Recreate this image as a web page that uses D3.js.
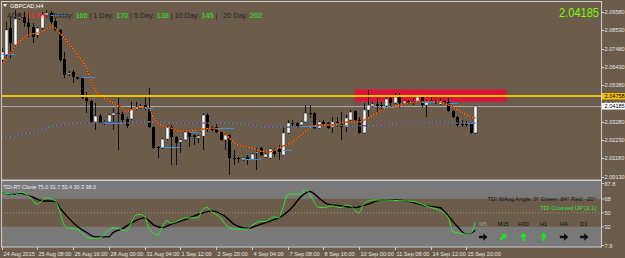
<!DOCTYPE html>
<html>
<head>
<meta charset="utf-8">
<script src="https://cdnjs.cloudflare.com/ajax/libs/d3/7.8.5/d3.min.js"></script>
<style>
  html, body { margin: 0; padding: 0; background: #6b5c4b; }
  svg { display: block; font-family: 'Liberation Sans', Arial, sans-serif; }
</style>
</head>
<body>
<div id="chart"></div>
<script>
// GBPCAD H4, 24 Aug - 15 Sep 2015
const opens = [2.0683,2.0711,2.0866,2.0769,2.0924,2.0929,2.0895,2.0872,2.0826,2.0866,2.0941,2.0952,2.0906,2.0855,2.0688,2.0602,2.0614,2.0585,2.0579,2.0465,2.0447,2.0327,2.0361,2.0321,2.0327,2.0367,2.0378,2.0373,2.0344,2.0344,2.0401,2.0407,2.0424,2.0407,2.0298,2.0183,2.0178,2.0229,2.0298,2.0241,2.0212,2.0224,2.0269,2.0252,2.0235,2.0246,2.0367,2.0298,2.0298,2.0269,2.0224,2.0252,2.0120,2.0120,2.0109,2.0126,2.0114,2.0149,2.0178,2.0126,2.0120,2.0166,2.0172,2.0137,2.0264,2.0321,2.0321,2.0310,2.0327,2.0378,2.0378,2.0292,2.0327,2.0321,2.0298,2.0327,2.0321,2.0298,2.0338,2.0390,2.0338,2.0264,2.0396,2.0419,2.0430,2.0424,2.0419,2.0465,2.0436,2.0470,2.0436,2.0447,2.0442,2.0447,2.0470,2.0424,2.0444,2.0447,2.0430,2.0447,2.0442,2.0390,2.0355,2.0315,2.0321,2.0315,2.0264]
const highs = [2.0751,2.0901,2.0929,2.0969,2.0952,2.0958,2.0952,2.0895,2.0872,2.0958,2.0969,2.0964,2.0924,2.0860,2.0728,2.0619,2.0625,2.0585,2.0585,2.0499,2.0453,2.0436,2.0373,2.0338,2.0373,2.0407,2.0465,2.0384,2.0355,2.0442,2.0442,2.0430,2.0470,2.0522,2.0304,2.0189,2.0235,2.0304,2.0310,2.0246,2.0229,2.0275,2.0275,2.0258,2.0252,2.0378,2.0378,2.0304,2.0321,2.0275,2.0258,2.0258,2.0166,2.0126,2.0126,2.0137,2.0149,2.0178,2.0183,2.0149,2.0178,2.0178,2.0195,2.0298,2.0338,2.0338,2.0327,2.0333,2.0424,2.0424,2.0384,2.0333,2.0338,2.0327,2.0355,2.0355,2.0384,2.0367,2.0396,2.0396,2.0355,2.0436,2.0510,2.0442,2.0465,2.0442,2.0465,2.0482,2.0493,2.0493,2.0453,2.0453,2.0465,2.0482,2.0482,2.0453,2.0476,2.0453,2.0465,2.0453,2.0465,2.0396,2.0361,2.0338,2.0333,2.0321,2.0419]
const lows = [2.0671,2.0694,2.0694,2.0757,2.0912,2.0872,2.0815,2.0780,2.0809,2.0855,2.0924,2.0889,2.0849,2.0671,2.0579,2.0591,2.0551,2.0568,2.0459,2.0378,2.0321,2.0281,2.0315,2.0310,2.0321,2.0281,2.0166,2.0327,2.0292,2.0338,2.0396,2.0401,2.0396,2.0292,2.0172,2.0120,2.0172,2.0224,2.0080,2.0080,2.0149,2.0218,2.0183,2.0195,2.0206,2.0166,2.0269,2.0275,2.0264,2.0218,2.0166,2.0023,2.0080,2.0092,2.0103,2.0080,2.0109,2.0051,2.0132,2.0120,2.0114,2.0126,2.0109,2.0132,2.0258,2.0298,2.0292,2.0304,2.0321,2.0350,2.0287,2.0287,2.0304,2.0287,2.0264,2.0298,2.0224,2.0269,2.0333,2.0333,2.0258,2.0258,2.0350,2.0413,2.0384,2.0396,2.0413,2.0413,2.0430,2.0413,2.0430,2.0430,2.0424,2.0442,2.0413,2.0355,2.0436,2.0430,2.0424,2.0430,2.0384,2.0350,2.0298,2.0298,2.0298,2.0258,2.0258]
const closes = [2.0728,2.0855,2.0780,2.0918,2.0929,2.0895,2.0872,2.0815,2.0866,2.0941,2.0952,2.0901,2.0855,2.0683,2.0597,2.0608,2.0585,2.0574,2.0465,2.0447,2.0327,2.0361,2.0321,2.0327,2.0367,2.0378,2.0373,2.0338,2.0304,2.0401,2.0413,2.0419,2.0401,2.0298,2.0178,2.0178,2.0229,2.0298,2.0241,2.0206,2.0224,2.0269,2.0241,2.0241,2.0246,2.0367,2.0292,2.0281,2.0269,2.0224,2.0252,2.0120,2.0114,2.0117,2.0120,2.0109,2.0143,2.0155,2.0137,2.0143,2.0172,2.0143,2.0155,2.0264,2.0321,2.0315,2.0298,2.0327,2.0378,2.0373,2.0292,2.0327,2.0310,2.0292,2.0327,2.0321,2.0298,2.0350,2.0384,2.0338,2.0264,2.0396,2.0424,2.0430,2.0419,2.0421,2.0459,2.0436,2.0470,2.0436,2.0447,2.0436,2.0439,2.0470,2.0424,2.0447,2.0439,2.0436,2.0447,2.0436,2.0390,2.0355,2.0310,2.0313,2.0310,2.0264,2.04185]

const timeLabels = ['24 Aug 2015','25 Aug 08:00','26 Aug 16:00','28 Aug 00:00','31 Aug 04:00','1 Sep 12:00','2 Sep 20:00','4 Sep 04:00','7 Sep 08:00','8 Sep 16:00','10 Sep 00:00','11 Sep 08:00','14 Sep 12:00','15 Sep 20:00']
const priceTicks = [2.09580,2.08530,2.07480,2.06430,2.05380,2.04330,2.03280,2.02230,2.01180,2.00130]

// moving averages (bar index, price)
const maFastBars = [0,2,4,6,9,11,12,13,15,17,19,20,21,23,25,27,28,30,31,33,34,35,37,38,40,44,47,49,51,53,56,58,60,62,65,67,69,71,74,76,78,80,82,84,86,89,91,93,96,98,100,103,105,106]
const maFast = [2.0654,2.0723,2.0786,2.0826,2.0843,2.0872,2.0866,2.0837,2.0780,2.0711,2.0637,2.0568,2.0510,2.0465,2.0436,2.0407,2.0390,2.0407,2.0413,2.0407,2.0350,2.0321,2.0298,2.0292,2.0275,2.0281,2.0292,2.0281,2.0235,2.0195,2.0178,2.0160,2.0155,2.0178,2.0212,2.0252,2.0292,2.0310,2.0310,2.0321,2.0327,2.0327,2.0350,2.0378,2.0407,2.0424,2.0436,2.0442,2.0442,2.0442,2.0424,2.0384,2.0355,2.0350]
const maSlowBars = [0,6,11,15,18,22,27,31,35,40,49,56,60,65,69,74,78,85,89,94,98,103,106]
const maSlow = [2.0235,2.0264,2.0298,2.0315,2.0321,2.0321,2.0321,2.0327,2.0327,2.0321,2.0321,2.0310,2.0298,2.0298,2.0304,2.0310,2.0304,2.0310,2.0321,2.0321,2.0327,2.0321,2.0321]

// short blue level segments [from bar, to bar, price]
const blueLevels = [[0,3,2.0717],[11,15,2.0941],[18,21,2.0585],[23,27,2.0321],[32,34,2.0407],[36,40,2.0183],[42,44,2.0269],[48,52,2.0292],[54,58,2.0114],[63,65,2.0166],[67,71,2.0304],[85,88,2.0413],[94,97,2.0442],[100,102,2.0436],[104,106,2.0321]]
const zoneBars = [79, 113]
const zonePrices = [2.0514, 2.0443]
const levelPrice = 2.04758
const bidPrice = 2.04185

// TDI sub window
const tdiGreenBars = [0,2,3,4,6,8,10,12,13,14,15,17,18,20,22,23,25,26,28,29,30,31,32,33,35,36,37,38,40,41,44,45,46,47,49,50,52,54,55,56,58,59,61,62,63,64,65,67,68,70,71,72,74,76,77,78,80,81,83,86,89,92,94,96,98,100,101,103,104,105,106]
const tdiGreen = [75.4,74.5,72.2,76.7,72.2,61.2,69.2,65.6,52.2,34.5,30.1,28.8,23.5,16.8,17.6,22.2,30.9,30.1,26.5,36.8,46.9,47.9,45.6,30.1,21.2,32.3,39.9,36.8,41.2,43.5,43.5,54.5,56.8,51.4,43.5,35.5,29.2,29.2,29.2,33.6,38.9,38.9,44.8,43.5,56.8,73.6,74.5,73.6,79.8,63.4,56.8,56.8,58.9,56.8,60.2,58.9,50.1,61.2,66.5,66.5,65.6,64.8,61.2,56.8,53.2,43.5,25.6,23.5,22.2,23.5,38.0]
const tdiSignalBars = [0,3,4,7,9,12,13,15,17,19,21,24,25,27,29,32,34,36,38,41,44,47,50,52,55,58,61,62,65,67,69,71,73,76,79,82,85,88,92,95,98,100,102,104,105,106]
const tdiSignal = [75.4,73.6,75.4,70.1,65.6,64.8,56.8,43.5,32.3,24.8,19.0,19.0,24.8,29.2,36.8,43.5,34.5,30.9,35.5,41.2,47.9,52.2,45.6,35.5,30.1,35.5,41.2,43.5,56.8,70.9,77.5,69.2,61.2,58.9,56.8,61.2,66.5,66.5,63.4,58.9,56.8,45.6,32.3,22.2,23.5,27.5]
const tdiTicks = [87.8, 68, 50, 32, 7.9]
const tdiBands = [68, 32]

const adrParts = [['ADR: ', 'lbl'], ['91.8%', 'red'], [' | ', 'lbl'], ['Today: ', 'lbl'], ['166', 'num'], [' | 1 Day: ', 'lbl'], ['170', 'num'], [' | 5 Day: ', 'lbl'], ['138', 'num'], [' | 10 Day: ', 'lbl'], ['145', 'num'], [' |   20 Day: ', 'lbl'], ['202', 'num']]
const timeframes = ['M5', 'M15', 'H30', 'H1', 'H4', 'D1']
const tfAngles = [0, 45, 90, 90, 0, 0]

const width = 625
const height = 258
const bg = '#6b5c4b'
const plot = { left: 1, right: 601, top: 2, bottom: 180 }
const sub = { top: 181, bottom: 247 }

const svg = d3
  .select('#chart')
  .append('svg')
  .attr('width', width)
  .attr('height', height)

svg.append('rect').attr('width', width).attr('height', height).attr('fill', bg)

const x = d3.scaleLinear().domain([0, 106]).range([1.5, 475.3])
const y = d3.scaleLinear().domain([2.0013, 2.0958]).range([176.7, 12])
const ySub = d3.scaleLinear().domain([7.9, 87.8]).range([245.5, 183.5])
const px = i => Math.round(x(i))

const defs = svg.append('defs')
defs.append('clipPath').attr('id', 'clipMain')
  .append('rect').attr('x', plot.left).attr('y', plot.top)
  .attr('width', plot.right - plot.left).attr('height', plot.bottom - plot.top)
defs.append('clipPath').attr('id', 'clipSub')
  .append('rect').attr('x', plot.left).attr('y', sub.top)
  .attr('width', plot.right - plot.left).attr('height', sub.bottom - sub.top)

const main = svg.append('g').attr('clip-path', 'url(#clipMain)')

// red supply zone
main.append('rect')
  .attr('x', x(zoneBars[0]))
  .attr('width', x(zoneBars[1]) - x(zoneBars[0]))
  .attr('y', y(zonePrices[0]))
  .attr('height', y(zonePrices[1]) - y(zonePrices[0]))
  .attr('fill', '#dc143c')

// bid line
main.append('line')
  .attr('x1', plot.left).attr('x2', plot.right)
  .attr('y1', Math.round(y(bidPrice)) + 0.5).attr('y2', Math.round(y(bidPrice)) + 0.5)
  .attr('stroke', '#a9a9a9')

// candles
const bars = d3.range(opens.length).map(i => ({ i, o: opens[i], h: highs[i], l: lows[i], c: closes[i] }))

main.selectAll('.wick')
  .data(bars)
  .enter()
  .append('line')
  .attr('class', 'wick')
  .attr('x1', d => px(d.i) + 0.5)
  .attr('x2', d => px(d.i) + 0.5)
  .attr('y1', d => y(d.h))
  .attr('y2', d => y(d.l))
  .attr('stroke', '#111')

main.selectAll('.body')
  .data(bars)
  .enter()
  .append('rect')
  .attr('class', 'body')
  .attr('x', d => px(d.i) - 1)
  .attr('width', 3)
  .attr('y', d => y(Math.max(d.o, d.c)))
  .attr('height', d => Math.max(1, Math.abs(y(d.o) - y(d.c))))
  .attr('fill', d => (d.c >= d.o ? '#fff' : '#000'))
  .attr('stroke', d => (d.c >= d.o ? '#333' : 'none'))
  .attr('stroke-width', 0.5)

// moving averages, drawn as two-coloured dotted lines
const priceLine = d3.line().x(d => x(d[0])).y(d => y(d[1])).curve(d3.curveMonotoneX)
const slowPts = maSlowBars.map((b, k) => [b, maSlow[k]])
const fastPts = maFastBars.map((b, k) => [b, maFast[k]])

main.append('path').attr('d', priceLine(slowPts)).attr('fill', 'none')
  .attr('stroke', '#8a1fb8').attr('stroke-width', 1.2)
main.append('path').attr('d', priceLine(slowPts)).attr('fill', 'none')
  .attr('stroke', '#2fb52f').attr('stroke-width', 1.2).attr('stroke-dasharray', '2 2')

main.append('path').attr('d', priceLine(fastPts)).attr('fill', 'none')
  .attr('stroke', '#9c2a08').attr('stroke-width', 1.2)
main.append('path').attr('d', priceLine(fastPts)).attr('fill', 'none')
  .attr('stroke', '#f08a1c').attr('stroke-width', 1.2).attr('stroke-dasharray', '1.5 1.5')

main.selectAll('.blue')
  .data(blueLevels)
  .enter()
  .append('line')
  .attr('x1', d => x(d[0]))
  .attr('x2', d => x(d[1]))
  .attr('y1', d => Math.round(y(d[2])) + 0.5)
  .attr('y2', d => Math.round(y(d[2])) + 0.5)
  .attr('stroke', '#3d8fe0')

// horizontal level
main.append('line')
  .attr('x1', plot.left).attr('x2', plot.right)
  .attr('y1', y(levelPrice)).attr('y2', y(levelPrice))
  .attr('stroke', '#f2c200').attr('stroke-width', 2)

// header texts
svg.append('path').attr('d', 'M3,4 L7,4 L5,7 Z').attr('fill', '#fff')
svg.append('text').attr('x', 10).attr('y', 7.5).attr('fill', '#fff')
  .style('font-size', '5.8px').text('GBPCAD,H4')

const adr = svg.append('text').attr('x', 7).attr('y', 18).style('font-size', '7.2px')
  .attr('xml:space', 'preserve')
adr.selectAll('tspan')
  .data(adrParts)
  .enter()
  .append('tspan')
  .attr('fill', d => (d[1] === 'red' ? '#ff2a2a' : d[1] === 'num' ? '#22ee22' : '#262626'))
  .text(d => d[0])

svg.append('text').attr('x', 599).attr('y', 17).attr('text-anchor', 'end')
  .attr('fill', '#7cfc00').style('font-size', '13px')
  .attr('textLength', 40).attr('lengthAdjust', 'spacingAndGlyphs')
  .text(d3.format('.5f')(bidPrice))

// ---- TDI sub window
const subG = svg.append('g').attr('clip-path', 'url(#clipSub)')
subG.append('rect').attr('x', plot.left).attr('width', plot.right - plot.left)
  .attr('y', sub.top).attr('height', sub.bottom - sub.top).attr('fill', '#797979')
subG.append('rect').attr('x', plot.left).attr('width', plot.right - plot.left)
  .attr('y', ySub(tdiBands[0])).attr('height', ySub(tdiBands[1]) - ySub(tdiBands[0])).attr('fill', bg)
subG.append('line').attr('x1', plot.left).attr('x2', plot.right)
  .attr('y1', ySub(50)).attr('y2', ySub(50))
  .attr('stroke', '#a09080').attr('stroke-dasharray', '1 2')

const tdiLine = d3.line().x(d => x(d[0])).y(d => ySub(d[1])).curve(d3.curveMonotoneX)
subG.append('path').attr('d', tdiLine(tdiSignalBars.map((b, k) => [b, tdiSignal[k]])))
  .attr('fill', 'none').attr('stroke', '#000').attr('stroke-width', 1.4)
subG.append('path').attr('d', tdiLine(tdiGreenBars.map((b, k) => [b, tdiGreen[k]])))
  .attr('fill', 'none').attr('stroke', '#2ee82e').attr('stroke-width', 1)

svg.append('text').attr('x', 3).attr('y', 188.5).attr('fill', '#eee')
  .style('font-size', '5.4px').text('TDI-RT-Clone 75.0 31.7 53.4 30.3 38.0')
svg.append('text').attr('x', 596).attr('y', 201).attr('text-anchor', 'end')
  .attr('fill', '#111').style('font-size', '5.9px')
  .text('TDI WAvg Angle: 9°  Green: 84°  Red: -20°')
svg.append('text').attr('x', 596).attr('y', 209.5).attr('text-anchor', 'end')
  .attr('fill', '#22ee22').style('font-size', '5.9px')
  .text('TDI Crossed UP [2.1]')

const tfX = d3.scalePoint().domain(timeframes).range([483, 584])
const tf = svg.selectAll('.tf').data(timeframes).enter().append('g')
  .attr('transform', d => 'translate(' + tfX(d) + ',0)')
tf.append('text').attr('y', 226).attr('text-anchor', 'middle')
  .style('font-size', '5.8px')
  .attr('fill', (d, k) => (k === 0 ? '#9a9a9a' : '#111'))
  .text(d => d)
tf.append('path')
  .attr('d', 'M-4,-1.3 L0.3,-1.3 L0.3,-3.8 L4.5,0 L0.3,3.8 L0.3,1.3 L-4,1.3 Z')
  .attr('transform', (d, k) => 'translate(0,237) rotate(' + -tfAngles[k] + ')')
  .attr('fill', (d, k) => (tfAngles[k] > 0 ? '#22dd22' : '#111'))

// ---- frames and axes
const frame = svg.append('g').attr('fill', 'none').attr('stroke', '#cfcfcf')
frame.append('rect').attr('x', plot.left + 0.5).attr('y', plot.top - 0.5)
  .attr('width', plot.right - plot.left).attr('height', plot.bottom - plot.top + 0.5)
frame.append('rect').attr('x', plot.left + 0.5).attr('y', sub.top - 0.5)
  .attr('width', plot.right - plot.left).attr('height', sub.bottom - sub.top + 0.5)

const axisText = '#e6e6e6'
const pAxis = svg.append('g')
pAxis.selectAll('line').data(priceTicks).enter().append('line')
  .attr('x1', plot.right + 0.5).attr('x2', plot.right + 3)
  .attr('y1', d => Math.round(y(d)) + 0.5).attr('y2', d => Math.round(y(d)) + 0.5)
  .attr('stroke', '#cfcfcf')
// 2.04330 sits partly under the bid tag, as it does in the terminal
pAxis.selectAll('text').data(priceTicks).enter().append('text')
  .attr('x', plot.right + 3.5).attr('y', d => y(d) + 2)
  .attr('fill', axisText).style('font-size', '5.6px')
  .text(d => d3.format('.5f')(d))

// price tags
const tags = [[levelPrice, '#f2c200'], [bidPrice, '#ffffff']]
tags.forEach(t => {
  svg.append('rect').attr('x', plot.right + 1).attr('y', y(t[0]) - 3)
    .attr('width', 24).attr('height', 6.5).attr('fill', t[1])
  svg.append('text').attr('x', plot.right + 3.5).attr('y', y(t[0]) + 2.2)
    .attr('fill', '#000').style('font-size', '5.6px').text(d3.format('.5f')(t[0]))
})

const sAxis = svg.append('g')
sAxis.selectAll('line').data(tdiTicks).enter().append('line')
  .attr('x1', plot.right + 0.5).attr('x2', plot.right + 3)
  .attr('y1', d => ySub(d)).attr('y2', d => ySub(d))
  .attr('stroke', '#cfcfcf')
sAxis.selectAll('text').data(tdiTicks).enter().append('text')
  .attr('x', plot.right + 3.5).attr('y', d => ySub(d) + 2)
  .attr('fill', axisText).style('font-size', '5.6px')
  .text(d => d)

const tAxis = svg.append('g')
tAxis.selectAll('line').data(timeLabels).enter().append('line')
  .attr('x1', (d, k) => px(k * 8) + 0.5).attr('x2', (d, k) => px(k * 8) + 0.5)
  .attr('y1', sub.bottom).attr('y2', sub.bottom + 3)
  .attr('stroke', '#cfcfcf')
tAxis.selectAll('text').data(timeLabels).enter().append('text')
  .attr('x', (d, k) => px(k * 8) + 1.5).attr('y', 255.5)
  .attr('fill', axisText).style('font-size', '5.6px')
  .text(d => d)
</script>
</body>
</html>
